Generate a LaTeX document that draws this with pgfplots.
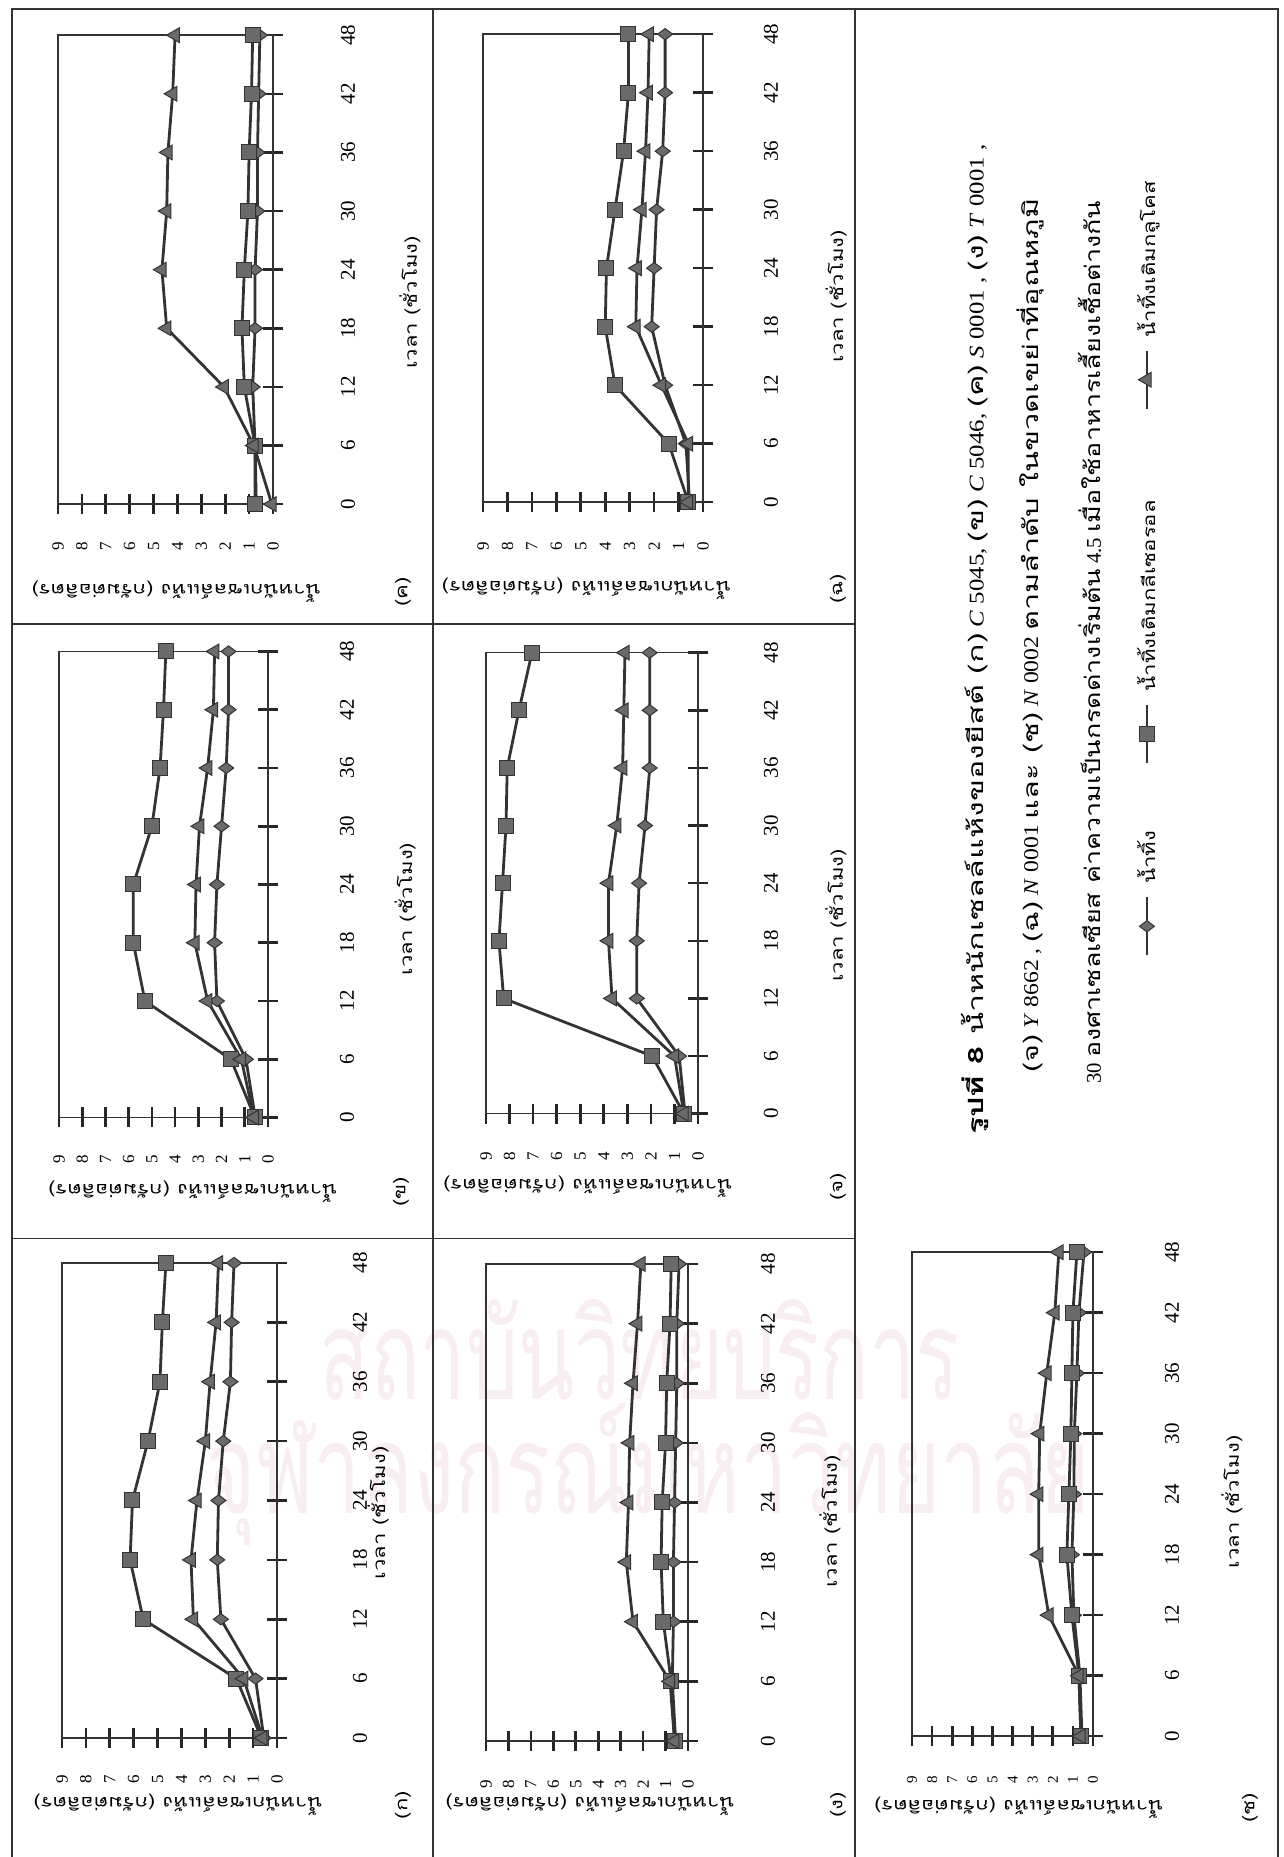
\documentclass[border=0pt]{standalone}
\usepackage{graphicx}
\usepackage{fontspec}
\setmainfont{Liberation Serif}
\newfontfamily\thai[Script=Thai, FakeStretch=1.3]{Loma}
\newfontfamily\thaimark[Script=Thai]{Loma}
\usepackage{pgfplots}
\pgfplotsset{compat=1.18}

\definecolor{ink}{HTML}{333333}
\definecolor{markfill}{HTML}{6A6A6A}
\definecolor{stamp}{HTML}{F8EDF2}
\newcommand{\T}[1]{{\thai #1}}

\tikzset{tag/.style={font=\thai\fontsize{17}{17}\selectfont}}
\pgfplotsset{
  panel/.style={
    scale only axis, clip=false,
    xmin=0, xmax=48, ymin=0, ymax=9,
    xtick={0,6,...,48}, ytick={0,1,...,9},
    tick align=center, tick pos=left,
    major tick length=20pt,
    every tick/.style={black!85, line width=2.6pt},
    axis line style={ink, line width=1.6pt},
    /pgf/number format/assume math mode=true,
    xticklabel style={font=\fontsize{21}{21}\selectfont, anchor=center},
    yticklabel style={font=\fontsize{17}{17}\selectfont, anchor=center},
    xlabel={เวลา (ชั่วโมง)},
    ylabel={น้ำหนักเซลล์แห้ง (กรัมต่อลิตร)},
    label style={font=\thai\fontsize{17}{17}\selectfont, anchor=center},
  },
  dry/.style={ink, line width=2.8pt, mark=diamond*, mark size=7.5pt,
    mark options={fill=markfill, draw=ink, line width=1pt}},
  gly/.style={ink, line width=2.8pt, mark=square*, mark size=7.5pt,
    mark options={fill=markfill, draw=ink, line width=1pt}},
  glu/.style={ink, line width=2.8pt, mark=triangle*, mark size=8.5pt,
    mark options={fill=markfill, draw=ink, line width=1pt}},
}

\begin{document}
\begin{tikzpicture}[rotate=90, transform shape]
\useasboundingbox (0pt,0pt) rectangle (1857pt,-1284pt);

% library stamp printed across the page
\node[rotate=-90, text=stamp, inner sep=0pt] at (507pt,-640pt)
  {\resizebox{640pt}{100pt}{\thaimark\fontsize{60}{60}\selectfont สถาบันวิทยบริการ}};
\node[rotate=-90, text=stamp, inner sep=0pt] at (382pt,-648pt)
  {\resizebox{883pt}{110pt}{\thaimark\fontsize{60}{60}\selectfont จุฬาลงกรณ์มหาวิทยาลัย}};

% frame and cell rules
\draw[black!80, line width=2pt] (0pt,-12pt) -- (1848pt,-12pt) -- (1848pt,-1278pt) -- (0pt,-1278pt);
\draw[black!80, line width=1.6pt] (0pt,-433pt) -- (1848pt,-433pt);
\draw[black!80, line width=1.6pt] (0pt,-855pt) -- (1848pt,-855pt);
\draw[black!80, line width=1.6pt] (618.5pt,-12pt) -- (618.5pt,-855pt);
\draw[black!80, line width=1.6pt] (1233pt,-12pt) -- (1233pt,-855pt);

% (ก) C 5045
\begin{axis}[panel, width=475pt, height=215pt, at={(119pt,-277pt)}, anchor=south west,
  xticklabel style={yshift=-73pt}, yticklabel style={xshift=-31pt},
  xlabel style={at={(axis description cs:0.474,-0.47)}},
  ylabel style={at={(axis description cs:-0.141,0.46)}}]
\addplot[dry] coordinates {(0,0.55) (6,0.9) (12,2.35) (18,2.5) (24,2.45) (30,2.25) (36,1.95) (42,1.9) (48,1.8)};
\addplot[gly] coordinates {(0,0.65) (6,1.7) (12,5.6) (18,6.15) (24,6.05) (30,5.4) (36,4.9) (42,4.8) (48,4.65)};
\addplot[glu] coordinates {(0,0.6) (6,1.4) (12,3.5) (18,3.6) (24,3.35) (30,3.0) (36,2.8) (42,2.55) (48,2.45)};
\node[tag] at (axis description cs:-0.141,-0.586) {(ก)};
\end{axis}

% (ข) C 5046
\begin{axis}[panel, width=466pt, height=209pt, at={(739.5pt,-268pt)}, anchor=south west,
  xticklabel style={yshift=-69pt}, yticklabel style={xshift=-32pt},
  xlabel style={at={(axis description cs:0.447,-0.656)}},
  ylabel style={at={(axis description cs:-0.160,0.36)}}]
\addplot[dry] coordinates {(0,0.55) (6,0.95) (12,2.2) (18,2.3) (24,2.2) (30,2.0) (36,1.8) (42,1.7) (48,1.7)};
\addplot[gly] coordinates {(0,0.57) (6,1.6) (12,5.3) (18,5.8) (24,5.8) (30,5.0) (36,4.65) (42,4.5) (48,4.4)};
\addplot[glu] coordinates {(0,0.6) (6,1.15) (12,2.6) (18,3.15) (24,3.1) (30,2.95) (36,2.6) (42,2.35) (48,2.3)};
\node[tag] at (axis description cs:-0.160,-0.636) {(ข)};
\end{axis}

% (ค) S 0001
\begin{axis}[panel, width=469pt, height=215pt, at={(1352.8pt,-273pt)}, anchor=south west,
  xticklabel style={yshift=-65pt}, yticklabel style={xshift=-32pt},
  xlabel style={at={(axis description cs:0.43,-0.637)}},
  ylabel style={at={(axis description cs:-0.187,0.45)}}]
\addplot[dry] coordinates {(0,0.7) (6,0.75) (12,0.85) (18,0.75) (24,0.75) (30,0.65) (36,0.65) (42,0.6) (48,0.55)};
\addplot[gly] coordinates {(0,0.75) (6,0.75) (12,1.2) (18,1.3) (24,1.2) (30,1.05) (36,1.0) (42,0.9) (48,0.85)};
\addplot[glu] coordinates {(0,0.05) (6,0.8) (12,2.05) (18,4.45) (24,4.65) (30,4.45) (36,4.4) (42,4.2) (48,4.1)};
\node[tag] at (axis description cs:-0.187,-0.605) {(ค)};
\end{axis}

% (ง) T 0001
\begin{axis}[panel, width=477pt, height=202pt, at={(116pt,-688pt)}, anchor=south west,
  xticklabel style={yshift=-70pt}, yticklabel style={xshift=-33pt},
  xlabel style={at={(axis description cs:0.46,-0.703)}},
  ylabel style={at={(axis description cs:-0.134,0.485)}}]
\addplot[dry] coordinates {(0,0.55) (6,0.7) (12,0.65) (18,0.65) (24,0.6) (30,0.55) (36,0.5) (42,0.5) (48,0.4)};
\addplot[gly] coordinates {(0,0.6) (6,0.75) (12,1.1) (18,1.2) (24,1.15) (30,1.0) (36,0.95) (42,0.8) (48,0.75)};
\addplot[glu] coordinates {(0,0.6) (6,0.8) (12,2.45) (18,2.75) (24,2.65) (30,2.6) (36,2.45) (42,2.25) (48,2.1)};
\node[tag] at (axis description cs:-0.134,-0.743) {(ง)};
\end{axis}

% (จ) Y 8662
\begin{axis}[panel, width=461pt, height=212pt, at={(743.3pt,-698pt)}, anchor=south west,
  xticklabel style={yshift=-63pt}, yticklabel style={xshift=-33pt},
  xlabel style={at={(axis description cs:0.43,-0.651)}},
  ylabel style={at={(axis description cs:-0.159,0.52)}}]
\addplot[dry] coordinates {(0,0.55) (6,0.8) (12,2.6) (18,2.6) (24,2.5) (30,2.25) (36,2.05) (42,2.05) (48,2.05)};
\addplot[gly] coordinates {(0,0.6) (6,1.95) (12,8.25) (18,8.45) (24,8.3) (30,8.15) (36,8.1) (42,7.6) (48,7.05)};
\addplot[glu] coordinates {(0,0.6) (6,1.0) (12,3.65) (18,3.8) (24,3.8) (30,3.45) (36,3.2) (42,3.15) (48,3.1)};
\node[tag] at (axis description cs:-0.159,-0.660) {(จ)};
\end{axis}

% (ฉ) N 0001
\begin{axis}[panel, width=468pt, height=220pt, at={(1354.8pt,-703pt)}, anchor=south west,
  xticklabel style={yshift=-58pt}, yticklabel style={xshift=-34pt},
  xlabel style={at={(axis description cs:0.44,-0.605)}},
  ylabel style={at={(axis description cs:-0.185,0.53)}}]
\addplot[dry] coordinates {(0,0.55) (6,0.7) (12,1.55) (18,2.1) (24,2.0) (30,1.9) (36,1.65) (42,1.55) (48,1.55)};
\addplot[gly] coordinates {(0,0.6) (6,1.4) (12,3.6) (18,4.0) (24,3.95) (30,3.6) (36,3.25) (42,3.05) (48,3.05)};
\addplot[glu] coordinates {(0,0.6) (6,0.6) (12,1.7) (18,2.75) (24,2.7) (30,2.5) (36,2.35) (42,2.25) (48,2.2)};
\node[tag] at (axis description cs:-0.185,-0.614) {(ฉ)};
\end{axis}

% (ช) N 0002, carrying the shared legend
\begin{axis}[panel, width=484pt, height=181pt, at={(120.8pt,-1093pt)}, anchor=south west,
  yticklabel style={font=\fontsize{15}{15}\selectfont},
  xticklabel style={yshift=-69pt}, yticklabel style={xshift=-34pt},
  xlabel style={at={(axis description cs:0.484,-0.768)}},
  ylabel style={at={(axis description cs:-0.148,0.41)}},
  legend columns=3,
  legend image code/.code={\draw[mark repeat=2, mark phase=2] plot coordinates {(0pt,0pt) (29pt,0pt) (58pt,0pt)};},
  legend style={draw=none, fill=none, inner sep=0pt, outer sep=0pt,
    at={(axis description cs:1.6105,-0.298)}, anchor=west,
    nodes={inner sep=0pt, font=\thai\fontsize{17}{17}\selectfont},
    /tikz/every odd column/.style={column sep=12pt}}]
\addplot[dry] coordinates {(0,0.55) (6,0.65) (12,0.95) (18,1.05) (24,0.95) (30,0.93) (36,0.8) (42,0.7) (48,0.45)};
\addlegendentry{\makebox[120pt][l]{น้ำทิ้ง}}
\addplot[gly] coordinates {(0,0.6) (6,0.7) (12,1.05) (18,1.3) (24,1.2) (30,1.1) (36,1.05) (42,1.0) (48,0.8)};
\addlegendentry{\makebox[281pt][l]{น้ำทิ้งเติมกลีเซอรอล}}
\addplot[glu] coordinates {(0,0.6) (6,0.7) (12,2.2) (18,2.7) (24,2.7) (30,2.65) (36,2.3) (42,1.9) (48,1.7)};
\addlegendentry{น้ำทิ้งเติมกลูโคส}
\node[tag] at (axis description cs:-0.148,-0.867) {(ช)};
\end{axis}

% figure caption
\begin{scope}[every node/.style={anchor=west, inner sep=0pt, font=\fontsize{21}{21}\selectfont}]
\node at (722pt,-975pt) {\resizebox{990pt}{\height}{\T{\bfseries รูปที่ 8}\ \ \T{น้ำหนักเซลล์แห้งของยีสต์ (ก)} \textit{C} 5045, \T{(ข)} \textit{C} 5046, \T{(ค)} \textit{S} 0001 , \T{(ง)} \textit{T} 0001 ,}};
\node at (784pt,-1030pt) {\resizebox{874pt}{\height}{\T{(จ)} \textit{Y} 8662 , \T{(ฉ)} \textit{N} 0001 \T{และ (ช)} \textit{N} 0002 \T{ตามลำดับ ในขวดเขย่าที่อุณหภูมิ}}};
\node at (773pt,-1090pt) {\resizebox{883pt}{\height}{30 \T{องศาเซลเซียส ค่าความเป็นกรดด่างเริ่มต้น} 4.5 \T{เมื่อใช้อาหารเลี้ยงเชื้อต่างกัน}}};
\end{scope}
\end{tikzpicture}
\end{document}
